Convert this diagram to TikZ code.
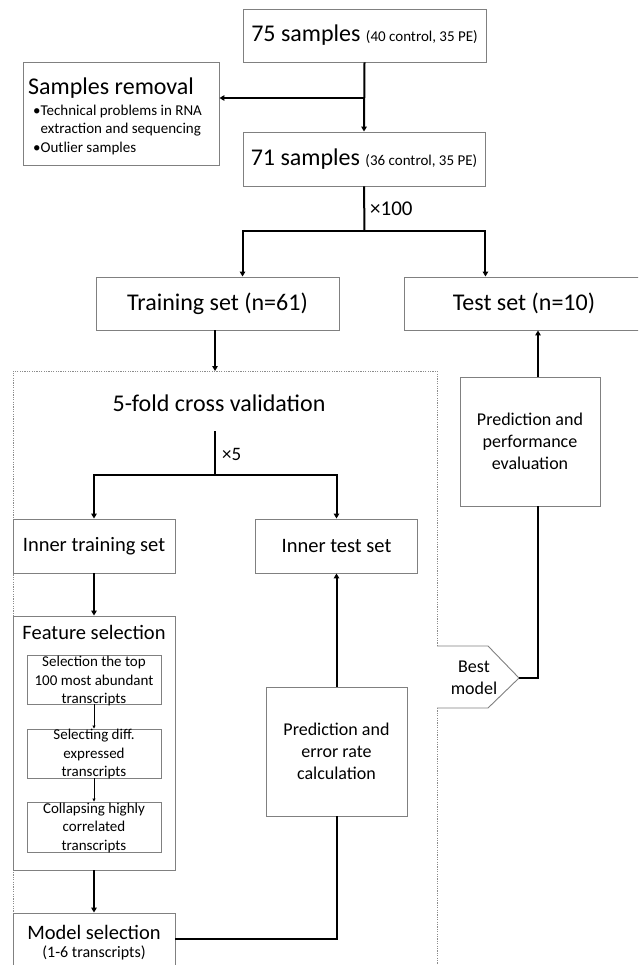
\documentclass[tikz,border=0pt]{standalone}
\usepackage{fontspec}
\setmainfont{Carlito}
\usetikzlibrary{arrows.meta,calc}
\definecolor{bgray}{RGB}{128,128,128}
\definecolor{dgray}{RGB}{140,140,140}
\begin{document}
\begin{tikzpicture}[x=1pt,y=-1pt,
  box/.style={draw=bgray,line width=0.9pt,inner sep=0pt,fill=white},
  arr/.style={line width=2pt,-{Triangle[length=5pt,width=5.5pt]}},
  conn/.style={line width=2pt},
  tarr/.style={line width=0.8pt,-{Triangle[length=3pt,width=3pt]}},
  dotbox/.style={draw=dgray,line width=0.8pt,dash pattern=on 1.2pt off 1.2pt},
  fa/.style={font=\fontsize{24}{29}\selectfont},
  fb/.style={font=\fontsize{20.5}{25}\selectfont},
  fc/.style={font=\fontsize{18}{22}\selectfont},
  fd/.style={font=\fontsize{15}{18.5}\selectfont},
  fe/.style={font=\fontsize{16}{19}\selectfont}]
\useasboundingbox (0,0) rectangle (638,965);
\clip (0,0) rectangle (638,965);

% dotted cross-validation frame
\draw[dotbox] (437,646) -- (437,371) -- (13,371) -- (13,975);
\draw[dotbox] (437,708) -- (437,975);

% top part
\node[box,minimum width=243pt,minimum height=53pt] (n75) at (364.5,35.5)
  {\fontsize{24}{29}\selectfont 75 samples \fontsize{15}{18}\selectfont(40 control, 35 PE)};
\node[box,minimum width=196pt,minimum height=103pt] (sr) at (121,113.5) {};
\node[fa,anchor=base west,inner sep=0pt] (srt) at (28,94.5) {Samples removal};
\node[fd,anchor=west,align=left,inner sep=0pt] (srb) at (33,130)
  {•Technical problems in RNA\\\phantom{•}extraction and sequencing\\•Outlier samples};
\node[box,minimum width=242pt,minimum height=54pt] (n71) at (364,159)
  {\fontsize{24}{29}\selectfont 71 samples \fontsize{15}{18}\selectfont(36 control, 35 PE)};
\node[anchor=west,inner sep=0pt,font=\fontsize{21}{25}\selectfont] (x100) at (370,209) {×100};

\node[box,fa,minimum width=243pt,minimum height=53pt] (train) at (217.5,303.5) {Training set (n=61)};
\node[box,fa,minimum width=240pt,minimum height=53pt] (test) at (524,303.5) {Test set (n=10)};

% cross validation
\node[fa,inner sep=0pt] (cv) at (219,403) {5-fold cross validation};
\node[anchor=west,inner sep=0pt,font=\fontsize{19}{23}\selectfont] (x5) at (222,454) {×5};
\node[box,fb,minimum width=162pt,minimum height=54pt] (itr) at (94,546) {Inner training set};
\node[box,fb,minimum width=162pt,minimum height=54pt] (ite) at (336.5,546) {Inner test set};

\node[box,minimum width=162pt,minimum height=254pt] (fs) at (94,743) {};
\node[fb,inner sep=0pt] (fst) at (94,632.5) {Feature selection};
\node[box,minimum width=134pt,minimum height=49pt] (s1) at (94,679.5) {};
\node[fd,align=center,inner sep=0pt] (s1t) at (94,681) {Selection the top\\100 most abundant\\transcripts};
\node[box,minimum width=134pt,minimum height=49pt] (s2) at (94,753.5) {};
\node[fd,align=center,inner sep=0pt] (s2t) at (94,754.3) {Selecting diff.\\expressed\\transcripts};
\node[box,minimum width=134pt,minimum height=50pt] (s3) at (94,827) {};
\node[fd,align=center,inner sep=0pt] (s3t) at (94,827.7) {Collapsing highly\\correlated\\transcripts};

\node[box,minimum width=162pt,minimum height=80pt] (ms) at (94,953) {};
\node[fb,inner sep=0pt] (mst) at (94,932) {Model selection};
\node[fe,inner sep=0pt] (mss) at (94,953) {(1-6 transcripts)};

\node[box,fc,align=center,minimum width=141pt,minimum height=129pt] (pe) at (336.5,751.5)
  {Prediction and\\error rate\\calculation};
\node[box,fc,align=center,minimum width=140pt,minimum height=129pt] (pp) at (530,441.5)
  {Prediction and\\performance\\evaluation};

% best model tag
\fill[white] (437,646) -- (488,646) -- (519,678) -- (488,708) -- (437,708) -- cycle;
\draw[draw=bgray,line width=0.9pt] (437,646) -- (488,646) -- (519,678) -- (488,708) -- (437,708);
\node[fc,align=center,inner sep=0pt] (bm) at (474,677.5) {Best\\model};
\coordinate (bmtip) at (519,678);

% connectors
\coordinate (j1) at (364.5,98);
\draw[arr] (n75.south) -- (n71.north);
\draw[arr] (j1) -- (sr.east |- j1);
\coordinate (j2) at (364.5,231);
\draw[conn] (n71.south) -- (j2);
\draw[arr] (j2) -| (train.north -| n71.west);
\draw[arr] (j2) -| (test.north -| n71.east);

\coordinate (cvtop) at (215,371);
\draw[arr] (train.south -| cvtop) -- (cvtop);
\coordinate (x5top) at (215,431);
\coordinate (j3) at (215,475);
\draw[conn] (x5top) -- (j3);
\draw[arr] (j3) -| (itr.north);
\draw[arr] (j3) -| (ite.north);
\draw[arr] (itr.south) -- (fs.north);
\draw[tarr] (s1.south) -- (s2.north);
\draw[tarr] (s2.south) -- (s3.north);
\draw[arr] (fs.south) -- (ms.north);
\coordinate (j4) at (175,939);
\draw[conn] (ms.east |- j4) -| (pe.south);
\draw[arr] (pe.north) -- (ite.south);
\coordinate (ppx) at (538,506);
\draw[conn] (bmtip) -| (pp.south -| ppx);
\draw[arr] (pp.north -| ppx) -- (test.south -| ppx);
\end{tikzpicture}
\end{document}
